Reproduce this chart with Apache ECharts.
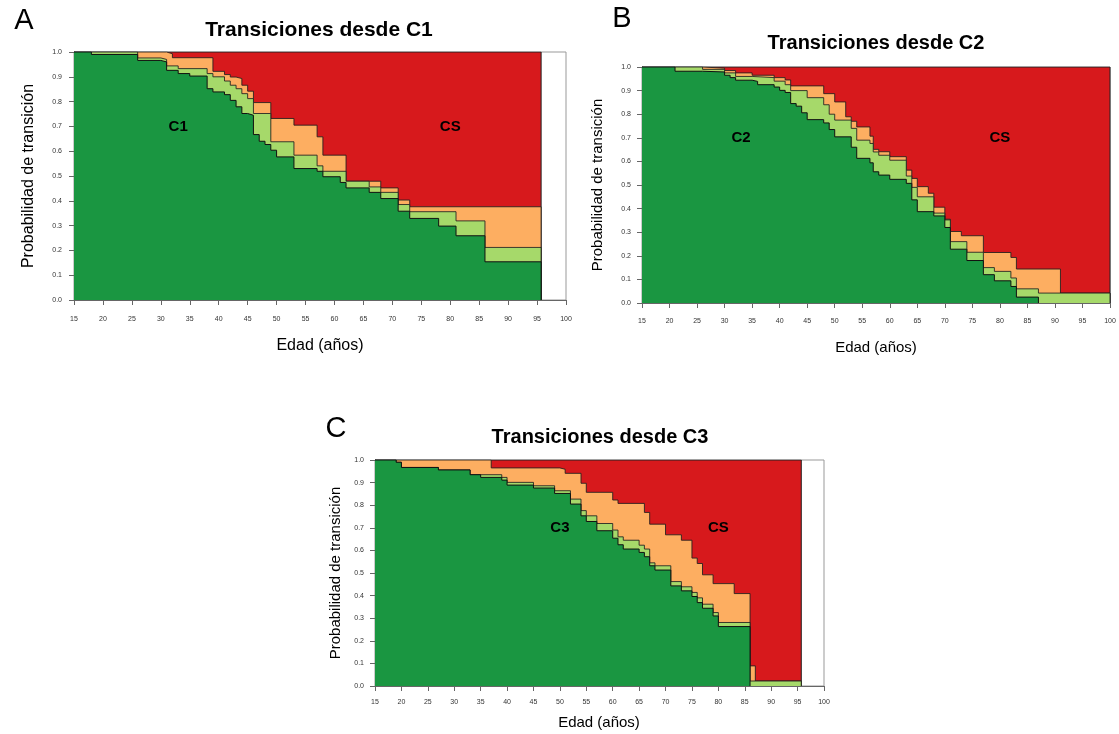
<!DOCTYPE html>
<html><head><meta charset="utf-8">
<script src="https://cdn.jsdelivr.net/npm/echarts@6/dist/echarts.min.js"></script>
<style>html,body{margin:0;padding:0;background:#fff}#c{width:1119px;height:734px}</style>
</head><body><div id="c"></div>
<script>
// ---- tick labels ----
const ageTicks = [15,20,25,30,35,40,45,50,55,60,65,70,75,80,85,90,95,100];
const probTicks = [0.0,0.1,0.2,0.3,0.4,0.5,0.6,0.7,0.8,0.9,1.0];
const titles = ['Transiciones desde C1','Transiciones desde C2','Transiciones desde C3'];
const panelLetters = ['A','B','C'];
const stateLabels = [['C1','CS'],['C2','CS'],['C3','CS']];
const stateLabelPos = [[[33,0.7],[80,0.7]],[[33,0.7],[80,0.7]],[[50,0.7],[80,0.7]]];
const xTitle = 'Edad (años)';
const yTitle = 'Probabilidad de transición';

// ---- Panel A (from C1): cumulative stacked step boundaries [age, prob] ----
const A_redEnd = 95.7;
const A_green = [[15,1.0],[18,0.99],[26,0.966],[30,0.96],[31,0.926],[33,0.913],[35,0.903],[38,0.852],[39,0.839],[41,0.828],[42,0.805],[43,0.779],[44,0.752],[45,0.745],[46,0.667],[47,0.64],[48,0.627],[49,0.604],[50,0.577],[53,0.53],[57,0.519],[58,0.497],[61,0.474],[62,0.452],[66,0.434],[68,0.409],[71,0.358],[73,0.329],[78,0.298],[81,0.259],[86,0.154],[95.7,0]];
const A_lightgreen = [[15,1.0],[26,0.976],[30,0.97],[31,0.944],[33,0.933],[38,0.913],[39,0.9],[41,0.883],[42,0.866],[43,0.852],[44,0.832],[45,0.812],[46,0.752],[49,0.638],[53,0.584],[57,0.541],[58,0.519],[62,0.479],[66,0.456],[68,0.434],[71,0.385],[73,0.356],[81,0.319],[86,0.212],[95.7,0]];
const A_orange = [[15,1.0],[31,0.993],[32,0.977],[39,0.922],[41,0.909],[42,0.899],[43,0.893],[44,0.866],[45,0.842],[46,0.796],[49,0.732],[53,0.705],[57,0.658],[58,0.584],[62,0.479],[68,0.452],[71,0.403],[73,0.376],[95.7,0]];

// ---- Panel B (from C2) ----
const B_redEnd = 100;
const B_green = [[15,1],[21,0.982],[26,0.979],[30,0.965],[31,0.955],[32,0.944],[35,0.939],[36,0.925],[39,0.915],[40,0.901],[41,0.892],[42,0.845],[43,0.834],[44,0.806],[45,0.777],[48,0.763],[49,0.735],[50,0.704],[53,0.66],[54,0.613],[56.4,0.594],[57,0.556],[58,0.542],[60,0.524],[63,0.507],[64,0.437],[65,0.387],[68,0.369],[70,0.32],[71,0.228],[74,0.18],[77,0.12],[79,0.094],[82,0.07],[83,0.025],[87,0]];
const B_lightgreen = [[15,1],[26,0.99],[30,0.975],[32,0.96],[35,0.955],[39,0.94],[41,0.925],[42,0.9],[45,0.87],[48,0.84],[49,0.8],[50,0.775],[53,0.74],[54,0.69],[56.4,0.676],[57,0.64],[58,0.626],[60,0.605],[63,0.538],[64,0.49],[65,0.45],[68,0.381],[70,0.352],[71,0.26],[74,0.215],[77,0.15],[79,0.134],[82,0.106],[83,0.06],[87,0.042],[100,0]];
const B_orange = [[15,1],[26,0.995],[30,0.985],[32,0.975],[35,0.965],[39,0.955],[41,0.945],[42,0.92],[48,0.887],[50,0.852],[52,0.789],[53,0.77],[54,0.746],[56.4,0.707],[57,0.651],[58,0.641],[60,0.62],[63,0.563],[64,0.528],[65,0.493],[67,0.465],[68,0.406],[70,0.355],[71,0.303],[73,0.285],[77,0.214],[82,0.193],[83,0.144],[91,0.042],[100,0]];

// ---- Panel C (from C3) ----
const C_redEnd = 95.7;
const C_green = [[15,1],[19,0.99],[20,0.967],[27,0.956],[33,0.935],[35,0.923],[39,0.911],[40,0.889],[45,0.876],[49,0.852],[52,0.805],[54,0.753],[55,0.728],[57,0.687],[60,0.654],[61,0.625],[62,0.606],[65,0.591],[66,0.572],[67,0.532],[68,0.513],[71,0.443],[73,0.421],[75,0.396],[76,0.369],[77,0.344],[79,0.31],[80,0.263],[86,0]];
const C_lightgreen = [[15,1],[19,0.99],[20,0.967],[27,0.956],[33,0.935],[39,0.923],[40,0.901],[45,0.886],[49,0.864],[52,0.827],[54,0.776],[55,0.753],[57,0.719],[60,0.69],[61,0.66],[62,0.645],[65,0.623],[66,0.606],[67,0.545],[68,0.532],[71,0.462],[73,0.439],[75,0.414],[76,0.39],[77,0.362],[79,0.325],[80,0.281],[86,0.022],[95.7,0]];
const C_orange = [[15,1],[37,0.965],[50,0.959],[51,0.941],[54,0.897],[55,0.857],[60,0.823],[61,0.808],[66,0.768],[67,0.716],[70,0.669],[73,0.645],[75,0.566],[76,0.542],[77,0.492],[79,0.453],[83,0.409],[86,0.089],[87,0.022],[95.7,0]];

const COLORS = {red:'#D7191C', orange:'#FDAE61', lightgreen:'#A6D96A', green:'#1A9641'};
const FONT = "'Liberation Sans', Arial, sans-serif";

const panels = [
  {redEnd:A_redEnd, green:A_green, lg:A_lightgreen, orange:A_orange},
  {redEnd:B_redEnd, green:B_green, lg:B_lightgreen, orange:B_orange},
  {redEnd:C_redEnd, green:C_green, lg:C_lightgreen, orange:C_orange}
];
// layout (pixels)
const L = [
  {left:74, top:52, width:492, height:248, title:[319,30], letter:[24,21], ytitle:[29,176], xtitle:[320,346], xMargin:16, yMargin:12, tSize:21, aSize:16, ySize:16},
  {left:642, top:67, width:468, height:236, title:[876,43], letter:[622,19], ytitle:[598,185], xtitle:[876,348], xMargin:15, yMargin:11, tSize:20, aSize:15, ySize:15},
  {left:375, top:460, width:449, height:226, title:[600,437], letter:[336,429], ytitle:[336,573], xtitle:[599,723], xMargin:13, yMargin:11, tSize:20, aSize:15, ySize:15}
];

const grid=[], xAxis=[], yAxis=[], series=[], graphic=[];
panels.forEach((p,i)=>{
  const l = L[i];
  grid.push({left:l.left, top:l.top, width:l.width, height:l.height, show:true, borderColor:'#999', borderWidth:1, containLabel:false});
  xAxis.push({gridIndex:i, type:'value', min:ageTicks[0], max:ageTicks[ageTicks.length-1], interval:ageTicks[1]-ageTicks[0],
    axisLine:{show:true, onZero:false, lineStyle:{color:'#666', width:1}},
    axisTick:{show:true, length:5, lineStyle:{color:'#666'}},
    axisLabel:{fontSize:7, color:'#333', margin:l.xMargin, fontFamily:FONT},
    splitLine:{show:false}});
  yAxis.push({gridIndex:i, type:'value', min:probTicks[0], max:probTicks[probTicks.length-1], interval:0.1,
    axisLine:{show:true, onZero:false, lineStyle:{color:'#666', width:1}},
    axisTick:{show:true, length:5, lineStyle:{color:'#666'}},
    axisLabel:{fontSize:7, color:'#333', margin:l.yMargin, fontFamily:FONT, formatter:v=>v.toFixed(1)},
    splitLine:{show:false}});
  const mk = (data,color,z,lc)=>({type:'line', xAxisIndex:i, yAxisIndex:i, data, step:'end', symbol:'none', showSymbol:false,
    lineStyle:{color:lc, width:1}, areaStyle:{color, opacity:1}, z, silent:true, animation:false});
  series.push(mk([[ageTicks[0],1],[p.redEnd,0]], COLORS.red, 2, '#222'));
  series.push(mk(p.orange, COLORS.orange, 3, 'rgba(30,30,30,0.85)'));
  series.push(mk(p.lg, COLORS.lightgreen, 4, 'rgba(30,30,30,0.85)'));
  series.push(mk(p.green, COLORS.green, 5, '#111'));
  series.push({type:'scatter', xAxisIndex:i, yAxisIndex:i, symbol:'circle', symbolSize:1, itemStyle:{color:'rgba(0,0,0,0)'}, z:10, silent:true,
    data: stateLabelPos[i].map((c,k)=>({value:c, name:stateLabels[i][k]})),
    label:{show:true, position:'inside', formatter:d=>d.name, fontSize:15, fontWeight:'bold', color:'#000', opacity:1, fontFamily:FONT}});
  graphic.push({type:'text', x:l.title[0], y:l.title[1], style:{text:titles[i], font:`bold ${l.tSize}px ${FONT}`, fill:'#000', textAlign:'center', textVerticalAlign:'middle'}});
  graphic.push({type:'text', x:l.letter[0], y:l.letter[1], style:{text:panelLetters[i], font:`29px ${FONT}`, fill:'#000', textAlign:'center', textVerticalAlign:'middle'}});
  graphic.push({type:'text', x:l.xtitle[0], y:l.xtitle[1], style:{text:xTitle, font:`${l.aSize}px ${FONT}`, fill:'#000', textAlign:'center', textVerticalAlign:'middle'}});
  graphic.push({type:'text', x:l.ytitle[0], y:l.ytitle[1], rotation:Math.PI/2, style:{text:yTitle, font:`${l.ySize}px ${FONT}`, fill:'#000', textAlign:'center', textVerticalAlign:'middle'}});
});

const chart = echarts.init(document.getElementById('c'), null, {renderer:'canvas'});
chart.setOption({animation:false, backgroundColor:'#fff', grid, xAxis, yAxis, series, graphic});
</script></body></html>
